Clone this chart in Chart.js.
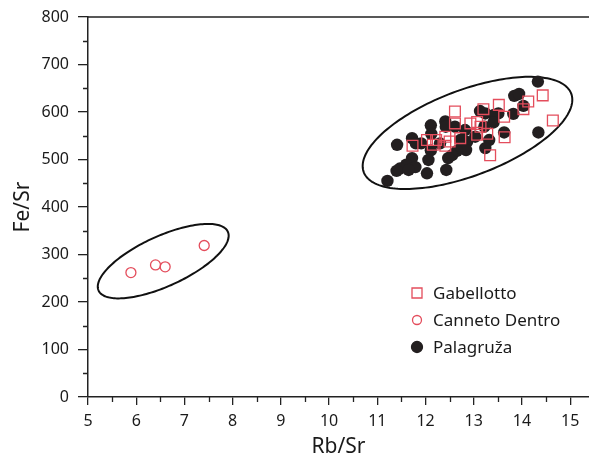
<!DOCTYPE html>
<html>
<head>
<meta charset="utf-8">
<script src="https://cdn.jsdelivr.net/npm/chart.js@4/dist/chart.umd.min.js"></script>
<style>
  html, body { margin: 0; padding: 0; background: #fff; }
  #chart { display: block; }
</style>
</head>
<body>
<canvas id="chart" width="589" height="463"></canvas>
<script>
// data
const gabX = [14.43, 14.13, 14.03, 13.52, 13.20, 12.61, 14.64, 13.63, 13.64, 13.34, 12.93, 13.07, 13.14, 12.61, 12.22, 12.41, 12.50, 12.41, 12.03, 11.73, 12.15, 12.72, 13.07, 13.28];
const gabY = [635, 622, 606, 615, 606, 601, 582, 590, 547, 509, 576, 579, 569, 576, 541, 548, 538, 529, 541, 529, 531, 545, 552, 554];

const canX = [5.89, 6.40, 6.60, 7.41];
const canY = [262, 278, 274, 319];

const palX = [14.33, 13.84, 13.94, 14.03, 14.34, 13.82, 13.63, 13.13, 13.24, 13.42, 13.51, 13.41, 13.22, 13.03, 13.32, 13.24, 12.82, 12.41, 12.42, 12.61, 12.11, 12.12, 11.72, 11.80, 11.91, 11.41, 12.11, 12.72, 12.86, 12.75, 12.84, 12.65, 12.55, 12.47, 12.06, 11.72, 11.60, 11.47, 11.40, 11.79, 11.65, 12.03, 12.43, 11.21, 12.30];
const palY = [664, 634, 638, 613, 557, 596, 557, 602, 597, 594, 597, 578, 569, 548, 541, 524, 562, 580, 569, 569, 572, 554, 545, 534, 534, 531, 519, 541, 537, 524, 520, 518, 509, 503, 499, 503, 489, 481, 476, 484, 478, 471, 478, 455, 534];

const xTicks = [5, 6, 7, 8, 9, 10, 11, 12, 13, 14, 15];
const xMinor = [5.5, 6.5, 7.5, 8.5, 9.5, 10.5, 11.5, 12.5, 13.5, 14.5];
const yTicks = [0, 100, 200, 300, 400, 500, 600, 700, 800];
const yMinor = [50, 150, 250, 350, 450, 550, 650, 750];

// group ellipses in data units: centre, semi-axis A, semi-axis B
const ellipseCx = [6.56, 12.87];
const ellipseCy = [286, 556];
const ellipseA = [[1.34, 62], [2.15, 83]];
const ellipseB = [[-0.216, 48], [-0.32, 84]];

const RED = '#e44d5c';
const DARK = '#231f20';
const AXIS = '#222';
const FONT = "'Noto Sans', 'Open Sans', sans-serif";

const toPoints = (xs, ys) => xs.map((x, i) => ({ x, y: ys[i] }));

const ellipsePlugin = {
    id: 'ellipses',
    beforeDatasetsDraw(chart) {
        const { ctx, scales: { x, y } } = chart;
        ctx.save();
        ctx.strokeStyle = '#111';
        ctx.lineWidth = 2;
        ellipseCx.forEach((cx, k) => {
            ctx.beginPath();
            for (let i = 0; i <= 180; i++) {
                const t = (i / 180) * Math.PI * 2;
                const dx = cx + ellipseA[k][0] * Math.cos(t) + ellipseB[k][0] * Math.sin(t);
                const dy = ellipseCy[k] + ellipseA[k][1] * Math.cos(t) + ellipseB[k][1] * Math.sin(t);
                const px = x.getPixelForValue(dx);
                const py = y.getPixelForValue(dy);
                if (i === 0) ctx.moveTo(px, py); else ctx.lineTo(px, py);
            }
            ctx.closePath();
            ctx.stroke();
        });
        ctx.restore();
    },
};

const framePlugin = {
    id: 'frame',
    afterDraw(chart) {
        const { ctx, chartArea, scales: { x, y } } = chart;
        ctx.save();
        ctx.strokeStyle = AXIS;
        ctx.lineWidth = 1.3;
        ctx.beginPath();
        // top border
        ctx.moveTo(chartArea.left, chartArea.top);
        ctx.lineTo(chartArea.right, chartArea.top);
        // minor ticks
        xMinor.forEach(v => {
            const px = Math.round(x.getPixelForValue(v)) + 0.5;
            ctx.moveTo(px, chartArea.bottom);
            ctx.lineTo(px, chartArea.bottom + 5);
        });
        yMinor.forEach(v => {
            const py = Math.round(y.getPixelForValue(v)) + 0.5;
            ctx.moveTo(chartArea.left - 5, py);
            ctx.lineTo(chartArea.left, py);
        });
        ctx.stroke();

        // legend inside the plot
        const items = chart.data.datasets;
        const lx = 417, ly = 293, gap = 27;
        ctx.font = '17px ' + FONT;
        ctx.textBaseline = 'middle';
        items.forEach((ds, i) => {
            const cy = ly + i * gap;
            ctx.lineWidth = 1.3;
            ctx.strokeStyle = ds.borderColor;
            ctx.fillStyle = ds.backgroundColor;
            ctx.beginPath();
            if (ds.pointStyle === 'rect') {
                ctx.rect(lx - 5, cy - 5, 10, 10);
            } else {
                ctx.arc(lx, cy, ds.label === 'Palagruža' ? 5.5 : 4.5, 0, Math.PI * 2);
            }
            ctx.fill();
            ctx.stroke();
            ctx.fillStyle = '#1a1a1a';
            ctx.fillText(ds.label, lx + 16, cy + 1);
        });
        ctx.restore();
    },
};

const tickFont = { family: FONT, size: 16 };
const titleFont = { family: FONT, size: 21 };

new Chart(document.getElementById('chart').getContext('2d'), {
    type: 'scatter',
    data: {
        datasets: [
            {
                label: 'Gabellotto',
                data: toPoints(gabX, gabY),
                pointStyle: 'rect',
                pointRadius: 7.6,
                borderColor: RED,
                backgroundColor: 'rgba(0,0,0,0)',
                borderWidth: 1.3,
            },
            {
                label: 'Canneto Dentro',
                data: toPoints(canX, canY),
                pointStyle: 'circle',
                pointRadius: 5,
                borderColor: RED,
                backgroundColor: 'rgba(0,0,0,0)',
                borderWidth: 1.3,
            },
            {
                label: 'Palagruža',
                data: toPoints(palX, palY),
                pointStyle: 'circle',
                pointRadius: 6.2,
                borderColor: DARK,
                backgroundColor: DARK,
                borderWidth: 0,
            },
        ],
    },
    options: {
        responsive: false,
        animation: false,
        devicePixelRatio: 1,
        layout: { autoPadding: false, padding: { top: 17, right: 0, left: 0, bottom: 0 } },
        plugins: {
            legend: { display: false },
            tooltip: { enabled: false },
        },
        scales: {
            x: {
                type: 'linear',
                min: 5,
                max: 15.39,
                afterBuildTicks: s => { s.ticks = xTicks.map(v => ({ value: v })); },
                afterFit: s => { s.height = 66; s.paddingLeft = 0; s.paddingRight = 0; },
                ticks: { font: tickFont, color: '#1a1a1a', padding: 7, maxRotation: 0, autoSkip: false },
                grid: { drawOnChartArea: false, tickLength: 8, color: AXIS, lineWidth: 1.3 },
                border: { display: true, color: AXIS, width: 1.5 },
                title: { display: true, text: 'Rb/Sr', font: titleFont, color: '#1a1a1a', padding: { bottom: 3 } },
            },
            y: {
                type: 'linear',
                min: 0,
                max: 800,
                afterBuildTicks: s => { s.ticks = yTicks.map(v => ({ value: v })); },
                afterFit: s => { s.width = 88; s.paddingTop = 0; s.paddingBottom = 0; },
                ticks: { font: tickFont, color: '#1a1a1a', padding: 9, autoSkip: false },
                grid: { drawOnChartArea: false, tickLength: 10, color: AXIS, lineWidth: 1.3 },
                border: { display: true, color: AXIS, width: 1.5 },
                title: { display: true, text: 'Fe/Sr', font: titleFont, color: '#1a1a1a', padding: { top: 10 } },
            },
        },
    },
    plugins: [ellipsePlugin, framePlugin],
});
</script>
</body>
</html>
